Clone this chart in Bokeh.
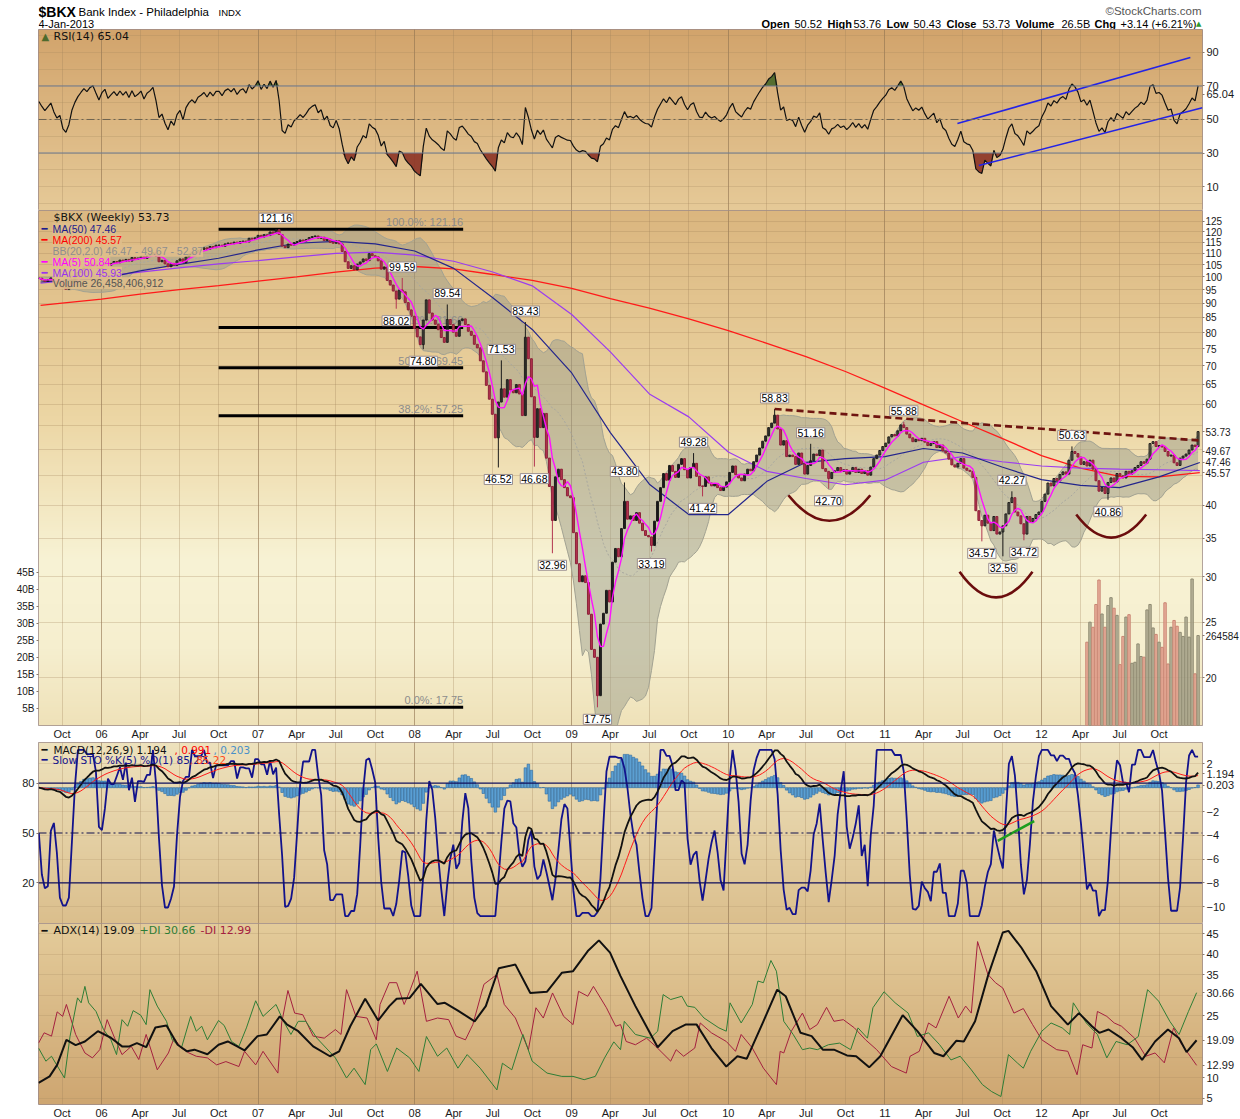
import numpy as np
import pandas as pd
from bokeh.plotting import figure
from bokeh.layouts import column
from bokeh.models import Range1d, LinearAxis, LinearScale, FixedTicker, Span, Grid, PrintfTickFormatter
from bokeh.core.properties import value
from bokeh.embed import file_html
from bokeh.resources import INLINE

# ---------------- weekly closes (Fridays) ----------------
close_2005 = [99.5, 98.8, 98.2,
              98.9, 99.6, 98.4, 97.5, 97.9,
              95.8, 95.1, 96.2, 98.7,
              100.4, 101.8, 102.9, 104.0,
              103.6, 104.7, 105.2, 104.3, 103.4]
close_2006 = [105.1, 106.0, 104.8, 105.6,
              106.4, 105.9, 107.0, 106.5,
              107.3, 106.6, 108.1, 107.4, 107.9,
              108.6, 107.7, 108.9, 109.4,
              110.2, 108.7, 106.3, 106.9,
              105.4, 104.2, 105.6, 104.8, 106.7,
              107.5, 105.9, 108.4, 109.6,
              110.3, 109.8, 111.2, 111.7,
              112.4, 111.8, 113.0, 112.5, 113.6,
              113.6, 113.1, 114.2, 114.6,
              114.3, 115.0, 114.4, 115.2,
              115.5, 115.1, 116.8, 116.4, 117.0]
close_2007 = [118.2, 117.4, 118.5, 118.1,
              119.8, 119.2, 120.9, 118.6,
              113.2, 112.5, 114.1, 113.6, 114.8,
              115.3, 116.0, 115.5, 116.2,
              117.1, 117.6, 117.9, 116.8,
              117.3, 115.8, 116.4, 114.9, 114.5,
              115.6, 114.2, 110.8, 106.3,
              103.5, 104.6, 102.9, 105.3, 106.2,
              107.5, 106.8, 109.8, 108.9,
              108.4, 106.7, 103.2, 104.1,
              98.6, 96.8, 94.5, 91.5, 94.9,
              94.2, 90.2, 87.6, 85.4]
close_2008 = [81.3, 78.6, 76.2, 84.1,
              91.2, 86.5, 84.1, 82.7, 80.9,
              78.4, 76.9, 84.3, 82.6,
              80.1, 78.8, 83.9, 84.5,
              82.6, 80.4, 79.1, 76.3, 75.2,
              71.4, 68.3, 64.7, 61.2,
              57.6, 52.4, 60.5, 63.8,
              61.7, 66.2, 63.5, 62.8, 64.9,
              62.5, 57.3, 78.5, 72.0,
              61.8, 52.5, 58.9, 54.6, 57.8,
              48.3, 43.1, 37.6, 44.8,
              46.2, 44.3, 42.9, 41.5]
close_2009 = [41.2, 35.8, 31.6, 29.4, 30.1,
              29.3, 25.8, 22.4, 21.7,
              18.6, 24.8, 25.9, 28.4,
              27.1, 31.8, 33.6, 32.5,
              36.4, 40.6, 37.8, 38.3, 37.6,
              38.8, 37.2, 36.1, 35.4,
              35.2, 34.0, 37.5, 40.6, 42.9,
              45.4, 44.2, 46.9, 45.8,
              44.7, 47.1, 48.2, 46.1,
              44.6, 46.5, 47.3, 44.9, 43.2,
              43.1, 44.8, 43.7, 43.2,
              43.6, 42.9, 42.4, 43.0]
close_2010 = [43.9, 45.6, 46.8, 45.2, 44.6,
              44.1, 45.3, 46.2, 45.9,
              47.6, 48.9, 50.3, 51.7,
              52.8, 54.6, 55.6, 57.4, 54.3,
              50.9, 51.8, 48.6, 48.9,
              48.6, 47.1, 49.3, 47.2,
              45.3, 46.9, 47.8, 49.1, 48.8,
              49.9, 46.3, 45.8, 44.5,
              45.6, 45.9, 46.5, 45.8,
              46.1, 45.3, 45.8, 46.5, 45.6,
              46.2, 45.4, 45.9, 45.1,
              46.6, 48.2, 48.9, 49.8, 50.6]
close_2011 = [51.3, 52.6, 53.1, 52.8,
              53.9, 55.2, 54.6, 53.2,
              52.4, 51.6, 52.1, 51.8,
              52.3, 51.5, 50.8, 51.2, 51.6,
              50.4, 50.9, 49.7, 49.3,
              48.1, 47.0, 46.6, 47.3,
              48.2, 46.4, 46.0, 45.8, 44.7,
              39.1, 37.6, 36.8, 38.4,
              37.2, 36.1, 38.2, 35.6, 35.9,
              36.8, 38.6, 40.4, 41.2,
              38.9, 38.3, 37.1, 35.6,
              38.2, 37.4, 37.9, 38.5, 38.9]
close_2012 = [40.6, 41.8, 43.7, 43.2,
              44.5, 44.1, 45.2, 45.7,
              45.3, 47.9, 49.6, 49.2, 48.5,
              47.1, 47.6, 46.8, 47.9,
              46.2, 44.1, 42.3, 42.9,
              41.9, 43.8, 44.6, 43.9, 45.4,
              45.0, 44.6, 45.8, 45.3,
              45.9, 46.5, 46.9, 47.6, 47.3,
              48.1, 51.2, 51.6, 50.6,
              50.8, 50.5, 49.6, 48.7,
              48.9, 47.4, 46.9, 48.3, 48.7,
              49.1, 49.9, 50.9, 50.59]
close_2013 = [53.73]

# labelled weekly extremes
ext_dates = ["2007-02-16", "2007-11-23", "2007-12-07", "2008-01-25", "2008-03-21", "2008-07-18",
             "2008-07-25", "2008-09-19", "2008-10-10", "2008-11-21", "2009-03-06", "2009-05-08",
             "2009-07-10", "2009-10-16", "2009-11-06", "2010-04-23", "2010-07-16", "2010-08-27",
             "2011-02-18", "2011-08-19", "2011-10-07", "2011-10-28", "2011-11-25", "2012-03-16",
             "2012-06-08"]
ext_values = [121.16, 88.02, 99.59, 74.80, 89.54, 46.52, 71.53, 83.43, 46.68, 32.96, 17.75, 43.80,
              33.19, 49.28, 41.42, 58.83, 51.16, 42.70, 55.88, 34.57, 32.56, 42.27, 34.72, 50.63, 40.86]
ext_kind = ["H", "L", "H", "L", "H", "L", "H", "H", "L", "L", "L", "H",
            "L", "H", "L", "H", "H", "L", "H", "L", "L", "H", "L", "H", "L"]

# weekly volume (billions), last 38 weeks
volume_b = [24.5, 30.4, 28.9, 35.6, 42.8, 32.8, 28.9, 35.3, 37.6, 34.5, 32.4, 17.9, 26.2,
            31.9, 32.6, 18.3, 18.6, 24.0, 20.3, 20.1, 34.0, 35.6, 28.7, 26.8, 24.5, 23.0,
            36.1, 18.1, 28.9, 30.9, 29.2, 27.4, 26.2, 31.9, 26.0, 43.1, 15.2, 26.46]
volume_last_b = 26.46

# moving averages read at quarter marks
ma_dates = ["2005-08-12", "2005-10-01", "2006-01-01", "2006-04-01", "2006-07-01", "2006-10-01",
            "2007-01-01", "2007-04-01", "2007-07-01", "2007-10-01", "2008-01-01", "2008-04-01",
            "2008-07-01", "2008-10-01", "2009-01-01", "2009-04-01", "2009-07-01", "2009-10-01",
            "2010-01-01", "2010-04-01", "2010-07-01", "2010-10-01", "2011-01-01", "2011-04-01",
            "2011-07-01", "2011-10-01", "2012-01-01", "2012-04-01", "2012-07-01", "2012-10-01",
            "2013-01-04"]
ma50 = [98.0, 98.5, 99.2, 102.5, 105.2, 107.8, 111.5, 114.5, 115.4, 114.2, 111.0, 103.5, 92.0,
        81.0, 68.0, 53.5, 43.5, 38.5, 38.5, 44.0, 47.5, 48.2, 48.6, 50.2, 49.3, 46.6, 44.3, 43.3,
        42.9, 44.8, 47.46]
ma100 = [97.5, 98.4, 100.2, 102.0, 103.7, 105.4, 106.8, 108.4, 109.9, 110.5, 109.2, 106.5, 102.0,
         96.5, 86.0, 74.0, 62.5, 57.0, 49.5, 45.8, 44.5, 43.4, 44.2, 47.5, 48.6, 47.6, 46.8, 46.4,
         46.2, 46.1, 45.93]
ma200 = [89.2, 90.0, 91.5, 93.3, 95.0, 96.6, 98.3, 100.0, 102.0, 103.6, 104.3, 103.3, 101.0,
         98.6, 95.5, 91.7, 88.2, 84.5, 80.6, 76.6, 72.6, 68.4, 64.0, 59.8, 55.9, 52.3, 48.8, 46.4,
         44.9, 44.8, 45.57]

# ADX(14) panel (x in fractional years)
adx_yr = [2005.598, 2005.669, 2005.717, 2005.776, 2005.835, 2005.894, 2005.977, 2006.060, 2006.131,
          2006.178, 2006.226, 2006.285, 2006.344, 2006.415, 2006.486, 2006.546, 2006.593, 2006.676,
          2006.747, 2006.806, 2006.866, 2006.913, 2006.996, 2007.055, 2007.138, 2007.185, 2007.256,
          2007.351, 2007.458, 2007.517, 2007.588, 2007.683, 2007.766, 2007.837, 2007.884, 2007.967,
          2008.038, 2008.145, 2008.192, 2008.275, 2008.382, 2008.453, 2008.536, 2008.642, 2008.737,
          2008.844, 2008.938, 2009.010, 2009.104, 2009.175, 2009.246,
          2009.313, 2009.408, 2009.550, 2009.645, 2009.728, 2009.799, 2009.893, 2009.988, 2010.059,
          2010.119, 2010.225, 2010.313, 2010.367, 2010.462, 2010.533, 2010.604, 2010.675, 2010.758,
          2010.817, 2010.900, 2010.971, 2011.114, 2011.208, 2011.315, 2011.374, 2011.457, 2011.504,
          2011.576, 2011.658, 2011.753, 2011.789, 2011.872, 2011.966, 2012.061, 2012.168, 2012.239,
          2012.322, 2012.369, 2012.428, 2012.511, 2012.582, 2012.642, 2012.725, 2012.807, 2012.878,
          2012.926, 2012.990]
adx_val = [8.7, 10.3, 13.1, 19.2, 17.9, 18.8, 21.3, 19.7, 17.6, 17.6, 18.4, 17.4, 22.2, 22.7,
           18.0, 16.4, 16.8, 15.7, 18.0, 18.8, 17.6, 16.6, 20.1, 20.5, 24.9, 22.9, 21.3, 17.6,
           15.2, 16.4, 22.5, 29.2, 23.9, 27.4, 29.2, 29.4, 32.8, 27.9, 28.2, 26.3, 23.7, 27.4,
           36.6, 37.5, 30.6, 30.9, 35.5, 35.9, 40.8, 43.4, 40.4,
           34.7, 27.4, 17.4, 21.3, 22.9, 22.9, 17.2, 12.7, 15.2, 14.6, 23.7, 31.4, 29.8, 20.9,
           20.1, 16.8, 16.8, 15.4, 15.2, 12.5, 15.2, 25.2, 21.3, 16.0, 15.2, 19.0, 18.8, 23.7,
           34.7, 45.3, 45.7, 41.6, 35.9, 27.4, 22.9, 25.7, 22.5, 20.9, 21.7, 19.6, 17.4, 14.3,
           18.8, 21.7, 19.6, 16.2, 19.09]
pdi_yr = [2005.598, 2005.645, 2005.681, 2005.764, 2005.799, 2005.847, 2005.870, 2005.894, 2005.918,
          2005.965, 2006.013, 2006.060, 2006.096, 2006.131, 2006.167, 2006.202, 2006.250, 2006.285,
          2006.309, 2006.356, 2006.415, 2006.451, 2006.510, 2006.569, 2006.605, 2006.640, 2006.676,
          2006.747, 2006.783, 2006.830, 2006.877, 2006.925, 2006.984, 2007.031, 2007.114, 2007.162,
          2007.209, 2007.256, 2007.304, 2007.375, 2007.434, 2007.493, 2007.564, 2007.612, 2007.683,
          2007.718, 2007.754, 2007.825, 2007.884, 2007.967, 2008.026, 2008.074, 2008.145, 2008.204,
          2008.275, 2008.334, 2008.417, 2008.524, 2008.559, 2008.619, 2008.690, 2008.749, 2008.844,
          2008.938, 2009.010, 2009.081, 2009.152, 2009.211, 2009.270,
          2009.313, 2009.337, 2009.408, 2009.503, 2009.550, 2009.585, 2009.633, 2009.704, 2009.739,
          2009.787, 2009.846, 2009.941, 2009.988, 2010.012, 2010.083, 2010.154, 2010.190, 2010.225,
          2010.273, 2010.308, 2010.355, 2010.415, 2010.474, 2010.521, 2010.569, 2010.640, 2010.711,
          2010.782, 2010.829, 2010.889, 2010.924, 2010.995, 2011.066, 2011.149, 2011.208, 2011.279,
          2011.350, 2011.422, 2011.481, 2011.552, 2011.623, 2011.682, 2011.741, 2011.789, 2011.848,
          2011.884, 2011.931, 2012.002, 2012.061, 2012.132, 2012.180, 2012.203, 2012.286, 2012.357,
          2012.417, 2012.476, 2012.547, 2012.618, 2012.677, 2012.748, 2012.819, 2012.878, 2012.938,
          2012.990]
pdi_val = [17.2, 14.0, 15.2, 9.9, 20.0, 29.4, 28.2, 32.2, 28.2, 26.1, 21.7, 19.2, 15.6, 24.1,
           22.5, 26.3, 25.2, 22.9, 31.4, 27.4, 23.7, 19.2, 17.2, 24.9, 21.3, 22.5, 19.2, 23.9,
           22.7, 18.8, 17.6, 22.1, 28.7, 24.9, 27.8, 23.7, 20.5, 23.7, 23.7, 19.6, 17.2, 14.8,
           9.9, 12.3, 8.3, 16.8, 18.2, 11.5, 17.2, 14.8, 11.5, 20.0, 15.2, 17.2, 12.3, 15.6,
           12.3, 7.0, 13.5, 11.9, 20.5, 14.0, 11.1, 10.3, 10.3, 9.5, 10.3, 14.8, 18.7,
           16.8, 23.7, 20.5, 19.6, 21.3, 30.2, 29.0, 29.8, 27.4, 27.1, 24.5, 22.1, 21.3, 28.2,
           23.3, 27.8, 33.5, 33.1, 38.5, 35.9, 23.7, 20.5, 16.8, 17.2, 16.8, 18.0, 18.4, 16.8,
           22.1, 19.6, 27.0, 30.9, 28.2, 25.7, 20.0, 20.9, 18.0, 14.3, 15.2, 11.9, 8.3, 6.6,
           5.4, 15.6, 13.5, 12.3, 16.4, 21.3, 23.3, 22.1, 20.5, 28.2, 23.3, 20.5, 14.8, 18.8,
           18.0, 20.0, 31.4, 28.6, 23.7, 20.5, 26.1, 30.66]
mdi_yr = [2005.598, 2005.634, 2005.681, 2005.717, 2005.752, 2005.776, 2005.835, 2005.894, 2005.942,
          2005.989, 2006.036, 2006.084, 2006.131, 2006.190, 2006.238, 2006.285, 2006.356, 2006.427,
          2006.463, 2006.510, 2006.558, 2006.605, 2006.676, 2006.735, 2006.794, 2006.877, 2006.913,
          2006.984, 2007.031, 2007.126, 2007.150, 2007.190, 2007.233, 2007.285, 2007.351, 2007.422,
          2007.493, 2007.529, 2007.564, 2007.624, 2007.695, 2007.754, 2007.778, 2007.837, 2007.884,
          2007.932, 2007.967, 2008.015, 2008.074, 2008.145, 2008.216, 2008.263, 2008.323, 2008.370,
          2008.441, 2008.524, 2008.571, 2008.642, 2008.725, 2008.773, 2008.820, 2008.879, 2008.950,
          2009.010, 2009.045, 2009.104, 2009.140, 2009.223, 2009.282,
          2009.313, 2009.349, 2009.408, 2009.479, 2009.538, 2009.633, 2009.668, 2009.716, 2009.787,
          2009.822, 2009.893, 2009.988, 2010.047, 2010.083, 2010.154, 2010.225, 2010.308, 2010.332,
          2010.355, 2010.403, 2010.474, 2010.521, 2010.569, 2010.628, 2010.675, 2010.735, 2010.806,
          2010.877, 2010.948, 2011.042, 2011.137, 2011.161, 2011.220, 2011.279, 2011.327, 2011.410,
          2011.469, 2011.516, 2011.552, 2011.592, 2011.658, 2011.706, 2011.753, 2011.824, 2011.884,
          2011.943, 2012.002, 2012.097, 2012.168, 2012.227, 2012.263, 2012.322, 2012.357, 2012.417,
          2012.464, 2012.511, 2012.594, 2012.665, 2012.725, 2012.784, 2012.843, 2012.890, 2012.990]
mdi_val = [18.4, 20.9, 20.1, 26.0, 24.9, 27.8, 20.5, 16.0, 14.8, 16.8, 24.1, 19.6, 15.6, 17.6,
           14.4, 20.5, 11.9, 16.0, 19.6, 17.2, 16.0, 15.2, 14.8, 13.1, 13.9, 12.7, 16.4, 13.1,
           16.4, 11.1, 23.3, 31.2, 25.7, 25.3, 20.1, 19.6, 21.7, 20.5, 31.4, 24.9, 24.5, 19.2,
           27.8, 33.1, 33.1, 27.8, 31.0, 35.9, 23.7, 24.5, 24.1, 20.1, 19.2, 22.9, 32.7, 35.1,
           27.8, 24.5, 16.8, 27.0, 24.5, 30.6, 24.9, 22.9, 31.0, 29.8, 32.2, 27.0, 22.5,
           22.9, 18.8, 18.0, 19.6, 17.6, 14.0, 16.8, 15.2, 17.2, 23.3, 20.9, 18.8, 16.4, 20.5,
           17.2, 12.3, 8.3, 16.4, 16.0, 21.3, 25.7, 21.7, 22.9, 27.1, 23.7, 24.1, 22.1, 19.2,
           16.8, 12.7, 11.1, 15.2, 16.4, 23.3, 22.1, 29.8, 24.5, 27.4, 25.7, 43.1, 35.1, 33.1,
           31.8, 25.7, 26.8, 22.9, 19.2, 16.8, 16.4, 10.7, 18.0, 17.2, 26.1, 24.9, 23.3, 22.5,
           19.6, 15.2, 16.0, 13.6, 22.1, 18.4, 12.99]

# drawn annotations
fib_low, fib_high = 17.75, 121.16
fib_ratios = [1.0, 0.618, 0.5, 0.382, 0.0]
fib_span = ["2006-10-01", "2008-04-23"]
neck_dates = ["2010-04-19", "2013-01-10"]
neck_values = [58.83, 51.8]
arc_start = ["2010-05-21", "2011-06-24", "2012-03-22"]
arc_end = ["2010-11-28", "2011-12-11", "2012-09-01"]
arc_level = [41.6, 30.6, 38.5]
arc_ctrl = [33.9, 24.9, 32.0]
rsi_chan_dates = [["2011-06-19", "2012-12-13"], ["2011-08-08", "2013-01-10"]]
rsi_chan_vals = [[47.6, 87.0], [22.5, 57.0]]
macd_line_dates = ["2011-09-21", "2011-12-15"]
macd_line_vals = [-4.47, -2.81]

# last values shown on the right-hand scales
rsi_last = 65.04
price_tags = [53.73, 49.67, 47.46, 45.57]
macd_tags = [1.194, 0.203]
adx_tags = [30.66, 19.09, 12.99]

price_ticks = [20, 25, 30, 35, 40, 60, 65, 70, 75, 80, 85, 90, 95, 100, 105, 110, 115, 120, 125]
price_grid = [20, 25, 30, 35, 40, 45, 50, 55, 60, 65, 70, 75, 80, 85, 90, 95, 100, 105, 110, 115, 120, 125]
vol_ticks = [5, 10, 15, 20, 25, 30, 35, 40, 45]

# ---------------- derived series ----------------
BASE = pd.Timestamp("2005-01-01")


def dnum(d):
    return np.asarray((pd.to_datetime(d) - BASE).days, dtype=float)


def ynum(yrs):
    return 365.0 + (np.asarray(yrs, dtype=float) - 2006.0) * 365.17


closes = np.array(close_2005 + close_2006 + close_2007 + close_2008 + close_2009 + close_2010 +
                  close_2011 + close_2012 + close_2013, dtype=float)
dates = pd.date_range("2005-08-12", periods=len(closes), freq="7D")
x = dnum(dates) - 4.0
C = closes
O = np.r_[C[0], C[:-1]]
H = np.maximum(O, C)
L = np.minimum(O, C)
ext_idx = dates.get_indexer(pd.to_datetime(ext_dates), method="nearest")
for i, v, k in zip(ext_idx, ext_values, ext_kind):
    if k == "H":
        H[i] = max(H[i], v)
    else:
        L[i] = min(L[i], v)

s = pd.Series(C)
ma5 = s.rolling(5, min_periods=1).mean().values
bb_mid = s.rolling(20, min_periods=1).mean()
bb_sd = s.rolling(20, min_periods=1).std(ddof=0).fillna(0)
bb_up = (bb_mid + 2 * bb_sd).values
bb_lo = (bb_mid - 2 * bb_sd).values

# RSI(14), Wilder smoothing seeded with the first 14-week averages
delta = s.diff().fillna(0).values
gains = np.clip(delta, 0, None)
losses = np.clip(-delta, 0, None)
ag, al = gains[1:15].mean(), losses[1:15].mean()
rsi = np.empty(len(C))
for i in range(len(C)):
    ag = (ag * 13 + gains[i]) / 14
    al = (al * 13 + losses[i]) / 14
    rsi[i] = 100 - 100 / (1 + ag / al) if al > 0 else 100

ema12 = s.ewm(span=12, adjust=False).mean()
ema26 = s.ewm(span=26, adjust=False).mean()
macd = ema12 - ema26
sig = macd.ewm(span=9, adjust=False).mean()
hist = (macd - sig).values

Hs, Ls = pd.Series(H), pd.Series(L)
ll = Ls.rolling(5, min_periods=1).min()
hh = Hs.rolling(5, min_periods=1).max()
fastk = (100 * (s - ll) / (hh - ll).replace(0, np.nan)).fillna(50)
slowk = fastk.rolling(3, min_periods=1).mean().values

# ---------------- layout constants ----------------
X_START, X_END = 218.16, 2931.3
FW = 1164
BL, BR = 38, 38
FV = "DejaVu Sans"
FA = "Liberation Sans"

q_dates = pd.date_range("2005-10-01", "2012-10-01", freq="QS")
q_ticks = [int(v) for v in dnum(q_dates)]
q_labels = {}
for t, d in zip(q_ticks, q_dates):
    q_labels[t] = ("%02d" % (d.year % 100)) if d.month == 1 else d.strftime("%b")
y_ticks = [t for t, d in zip(q_ticks, q_dates) if d.month == 1]

xr = Range1d(X_START, X_END)


def hex2rgb(h):
    return [int(h[i:i + 2], 16) for i in (1, 3, 5)]


def add_bg(p, ylo, yhi, stops, n=256):
    fr = np.array([a for a, _ in stops])
    cols = np.array([hex2rgb(c) for _, c in stops], dtype=float)
    t = (np.arange(n) + 0.5) / n
    img = np.empty((n, 1), dtype=np.uint32)
    view = img.view(dtype=np.uint8).reshape((n, 1, 4))
    for k in range(3):
        view[:, 0, k] = np.interp(t, fr, cols[:, k])[::-1].astype(np.uint8)
    view[:, 0, 3] = 255
    p.image_rgba(image=[img], x=X_START, y=ylo, dw=X_END - X_START, dh=yhi - ylo, level="image")


def add_xgrid(p):
    p.add_layout(Grid(dimension=0, ticker=FixedTicker(ticks=q_ticks),
                      grid_line_color="#a0825a", grid_line_alpha=0.3))
    p.add_layout(Grid(dimension=0, ticker=FixedTicker(ticks=y_ticks),
                      grid_line_color="#8c6e4e", grid_line_alpha=0.45))


def add_ygrid(p, ticks, y_range_name="default", alpha=0.25):
    p.add_layout(Grid(dimension=1, ticker=FixedTicker(ticks=ticks), y_range_name=y_range_name,
                      grid_line_color="#a0825a", grid_line_alpha=alpha))


def style_axis(ax, size="11px"):
    ax.axis_line_color = None
    ax.major_tick_line_color = "#8a7a6a"
    ax.major_tick_out = 2
    ax.major_tick_in = 0
    ax.minor_tick_line_color = None
    ax.major_label_text_font = FA
    ax.major_label_text_font_size = size
    ax.major_label_text_color = "#1a1a1a"
    ax.major_label_standoff = 2


def panel(fh, y_range, y_type="linear", y_loc="right", bottom=0, with_x=False):
    p = figure(frame_width=FW, frame_height=fh, x_range=xr, y_range=y_range, y_axis_type=y_type,
               y_axis_location=y_loc, x_axis_location="below" if with_x else None,
               toolbar_location=None, output_backend="svg",
               min_border_left=BL, min_border_right=BR, min_border_top=0, min_border_bottom=bottom)
    p.xgrid.visible = False
    p.ygrid.visible = False
    p.outline_line_color = "#9c8a8a"
    p.border_fill_color = "white"
    for ax in p.yaxis:
        style_axis(ax)
    if with_x:
        ax = p.xaxis[0]
        style_axis(ax)
        ax.major_tick_out = 0
        ax.ticker = FixedTicker(ticks=q_ticks)
        ax.major_label_overrides = q_labels
    return p


def legend_text(p, ytop, items, frame_top, bg=None):
    # items: (page_x, page_y, text, color, font, size)
    for (px, py, txt, col, font, size) in items:
        kw = {}
        if bg is not None:
            kw = dict(background_fill_color=bg, background_fill_alpha=0.9)
        p.text(x=[X_START], y=[ytop], text=[txt], x_offset=px - 38, y_offset=py - frame_top,
               text_font=value(font), text_font_size=size, text_color=col,
               text_align="left", text_baseline="middle", **kw)


def tag_overrides(vals, fmt="%.2f"):
    return {v: fmt % v for v in vals}


# ---------------- header (frame aligned with the panels, x in page pixels) ----------------
hdr = figure(frame_width=FW, frame_height=29, x_range=Range1d(38, 1202), y_range=Range1d(29, 0),
             x_axis_location=None, y_axis_location=None, toolbar_location=None, output_backend="svg",
             min_border_left=BL, min_border_right=BR, min_border_top=0, min_border_bottom=0)
hdr.xgrid.visible = False
hdr.ygrid.visible = False
hdr.outline_line_color = None


def htext(xp, yp, txt, size, style="normal", color="#000000", align="left", font=FA):
    hdr.text(x=[xp], y=[yp], text=[txt], text_font=value(font), text_font_size=size,
             text_font_style=style, text_color=color, text_align=align, text_baseline="middle")


htext(38, 11, "$BKX", "14px", "bold")
htext(78, 11, "Bank Index - Philadelphia", "11.5px")
htext(218, 12, "INDX", "9.5px")
htext(38, 23, "4-Jan-2013", "11px")
htext(1201, 10, "\u00a9StockCharts.com", "11.5px", color="#555555", align="right")
ohlc = [(761, "Open", "bold"), (794, "50.52", "normal"), (827, "High", "bold"), (853, "53.76", "normal"),
        (886, "Low", "bold"), (913, "50.43", "normal"), (946, "Close", "bold"), (982, "53.73", "normal"),
        (1015, "Volume", "bold"), (1061, "26.5B", "normal"), (1094, "Chg", "bold"),
        (1120, "+3.14 (+6.21%)", "normal")]
for xp, txt, st in ohlc:
    htext(xp, 23, txt, "11px", st)
htext(1201, 23, "\u25b2", "7px", color="#2e9a2e", align="right", font=FV)

# ---------------- RSI panel ----------------
RLO, RHI = -4.3, 103.7
rp = panel(181, Range1d(RLO, RHI))
add_bg(rp, RLO, RHI, [(0, "#d2a46c"), (1, "#e6ca98")])
add_xgrid(rp)
add_ygrid(rp, list(range(0, 101, 10)))
rp.yaxis[0].ticker = FixedTicker(ticks=[10, 30, 50, rsi_last, 70, 90])
rp.yaxis[0].major_label_overrides = tag_overrides([rsi_last])
rp.varea(x=x, y1=70, y2=np.maximum(rsi, 70), fill_color="#4e6a2c", fill_alpha=0.95)
rp.varea(x=x, y1=np.minimum(rsi, 30), y2=30, fill_color="#8f3a2a", fill_alpha=0.95)
for lv in (30, 70):
    rp.add_layout(Span(location=lv, dimension="width", line_color="#6c7a92", line_width=1.2))
rp.add_layout(Span(location=50, dimension="width", line_color="#6e6450", line_width=1,
                   line_dash="8 3 2 3"))
rp.line(x, rsi, line_color="#111111", line_width=1.2)
for dd, vv in zip(rsi_chan_dates, rsi_chan_vals):
    xx = dnum(dd)
    rp.segment(x0=[xx[0]], y0=[vv[0]], x1=[xx[1]], y1=[vv[1]], line_color="#2323e6", line_width=1.6)
legend_text(rp, RHI, [(41, 36, "\u25b2", "#4e6a2c", FV, "10px"),
                      (53, 36, "RSI(14) 65.04", "#111111", FV, "11px")], 29)

# ---------------- main price panel ----------------
PLO, PHI = 16.5, 130.6
VHI = 151.5
mp = panel(515, Range1d(PLO, PHI), y_type="log", bottom=16, with_x=True)
mp.extra_y_ranges = {"vol": Range1d(0, VHI)}
mp.extra_y_scales = {"vol": LinearScale()}
add_bg(mp, PLO, PHI, [(0, "#dbb67f"), (0.4, "#ecd6a4"), (0.68, "#f8f3d5"), (0.85, "#f6efcf"),
                      (1, "#efe2b9")])
add_xgrid(mp)
add_ygrid(mp, price_grid, alpha=0.28)
# the volume tag sits on the price scale at the height of the last volume bar
vol_tag = float(np.exp(np.log(PLO) + volume_last_b / VHI * (np.log(PHI) - np.log(PLO))))
mp.yaxis[0].ticker = FixedTicker(ticks=price_ticks + price_tags + [vol_tag])
mp.yaxis[0].formatter = PrintfTickFormatter(format="%d")
ov = tag_overrides(price_tags)
ov[vol_tag] = "264584"
mp.yaxis[0].major_label_overrides = ov
mp.yaxis[0].major_label_text_font_size = "10px"
mp.yaxis[0].major_label_standoff = 1
vax = LinearAxis(y_range_name="vol", ticker=FixedTicker(ticks=vol_ticks),
                 major_label_overrides={t: "%dB" % t for t in vol_ticks})
style_axis(vax, "10px")
mp.add_layout(vax, "left")

# Bollinger band
mp.varea(x=x, y1=bb_lo, y2=bb_up, fill_color="#9c9e8c", fill_alpha=0.5)
mp.line(x, bb_up, line_color="#a2a292", line_width=1)
mp.line(x, bb_lo, line_color="#a2a292", line_width=1)
mp.line(x, bb_mid.values, line_color="#a8a8a0", line_width=1, line_dash="2 2")

# Fibonacci lines
fx = dnum(fib_span)
fib_vals = [fib_low + r * (fib_high - fib_low) for r in fib_ratios]
mp.segment(x0=[fx[0]] * 5, y0=fib_vals, x1=[fx[1]] * 5, y1=fib_vals, line_color="#000000",
           line_width=3)
mp.text(x=[fx[1]] * 5, y=fib_vals,
        text=["%.1f%%: %.2f" % (r * 100, v) for r, v in zip(fib_ratios, fib_vals)],
        y_offset=-7, text_align="right", text_baseline="middle", text_font=value(FA),
        text_font_size="11px", text_color="#8c8c8c")

# volume
nv = len(volume_b)
vx = x[-nv:]
vup = C[-nv:] >= O[-nv:]
vcol = ["#aba78f" if u else "#e6a190" for u in vup]
vline = ["#8e8a72" if u else "#c98472" for u in vup]
mp.vbar(x=vx, top=volume_b, bottom=0, width=5.5, fill_color=vcol, line_color=vline,
        fill_alpha=0.8, y_range_name="vol")

# moving averages
mx = dnum(ma_dates)
mp.line(mx, ma200, line_color="#ff1a1a", line_width=1.3)
mp.line(mx, ma100, line_color="#9b3cf0", line_width=1.2)
mp.line(mx, ma50, line_color="#23258c", line_width=1.2)

# candles
inc = C >= O
wcol = np.where(inc, "#1a1a1a", "#b23550")
mp.segment(x0=x, y0=L, x1=x, y1=H, line_color=list(wcol), line_width=1)
mp.vbar(x=x[inc], top=C[inc], bottom=O[inc], width=4.5, fill_color=None, line_color="#1a1a1a",
        line_width=1)
mp.vbar(x=x[~inc], top=O[~inc], bottom=C[~inc], width=4.5, fill_color="#b4334f",
        line_color="#8c2239", line_width=1)
mp.line(x, ma5, line_color="#ff10ff", line_width=1.4)

# neckline and arcs
nx = dnum(neck_dates)
mp.line(nx, neck_values, line_color="#6e1410", line_width=2.6, line_dash="7 4")
mp.quadratic(x0=dnum(arc_start), y0=arc_level, x1=dnum(arc_end), y1=arc_level,
             cx=(dnum(arc_start) + dnum(arc_end)) / 2, cy=arc_ctrl, line_color="#6b0d0d",
             line_width=2.6)

# extreme labels
ex_x = x[ext_idx]
ex_off = [-11 if k == "H" else 12 for k in ext_kind]
mp.text(x=ex_x, y=ext_values, text=["%.2f" % v for v in ext_values], y_offset=ex_off,
        text_align="center", text_baseline="middle", text_font=value(FA), text_font_size="10.5px",
        text_color="#000000", background_fill_color="white", border_line_color="#9a8e8e",
        padding=1)

# legend
MT = 210
legend_text(mp, PHI, [(53, 217.3, "$BKX (Weekly) 53.73", "#111111", FV, "11px")], MT, bg="#dcb984")
legend_text(mp, PHI, [(52, 228.3, "MA(50) 47.46", "#1c1c8c", FA, "10.5px"),
                      (52, 239.3, "MA(200) 45.57", "#ff0000", FA, "10.5px"),
                      (52, 250.3, "BB(20,2.0) 46.47 - 49.67 - 52.87", "#8e8e8e", FA, "10.5px"),
                      (52, 261.3, "MA(5) 50.84", "#ff00ff", FA, "10.5px"),
                      (52, 272.3, "MA(100) 45.93", "#9933ee", FA, "10.5px"),
                      (52, 282.7, "Volume 26,458,406,912", "#555555", FA, "10.5px")], MT,
            bg="#dfbe8b")
legend_text(mp, PHI, [(41, 228.3, "\u2501", "#1c1c8c", FV, "10px"),
                      (41, 239.3, "\u2501", "#ff0000", FV, "10px"),
                      (41, 261.3, "\u2501", "#ff00ff", FV, "10px"),
                      (41, 272.3, "\u2501", "#9933ee", FV, "10px")], MT)

# ---------------- MACD / STO panel ----------------
SLO, SHI = -4.5, 104.5
MLO, MHI = -11.41, 3.8
cp = panel(181, Range1d(SLO, SHI), y_loc="left")
cp.extra_y_ranges = {"macd": Range1d(MLO, MHI)}
cp.extra_y_scales = {"macd": LinearScale()}
add_bg(cp, SLO, SHI, [(0, "#eee2bd"), (1, "#dbbf8d")])
add_xgrid(cp)
add_ygrid(cp, [2, 0, -2, -4, -6, -8, -10], y_range_name="macd", alpha=0.2)
cp.yaxis[0].ticker = FixedTicker(ticks=[20, 50, 80])
max_ax = LinearAxis(y_range_name="macd", ticker=FixedTicker(ticks=[2] + macd_tags + [-2, -4, -6, -8, -10]),
                    major_label_overrides=tag_overrides(macd_tags, "%.3f"))
style_axis(max_ax)
cp.add_layout(max_ax, "right")
cp.vbar(x=x, top=hist, bottom=0, width=6, fill_color="#5b9fd2", line_color="#2a6aa2",
        line_width=0.6, y_range_name="macd")
for lv in (20, 80):
    cp.add_layout(Span(location=lv, dimension="width", line_color="#10105e", line_width=1.2))
cp.add_layout(Span(location=50, dimension="width", line_color="#10104e", line_width=1,
                   line_dash="8 3 2 3"))
cp.line(x, slowk, line_color="#12128c", line_width=1.8)
cp.line(x, sig.values, line_color="#ff1a1a", line_width=1, y_range_name="macd")
cp.line(x, macd.values, line_color="#111111", line_width=1.8, y_range_name="macd")
gx = dnum(macd_line_dates)
cp.segment(x0=[gx[0]], y0=[macd_line_vals[0]], x1=[gx[1]], y1=[macd_line_vals[1]],
           line_color="#1e9e1e", line_width=2.5, y_range_name="macd")
CT = 741
legend_text(cp, SHI, [(41, 748, "\u2501", "#111111", FV, "10px"),
                      (53, 748, "MACD(12,26,9) 1.194", "#111111", FV, "10.5px"),
                      (174, 748, ", 0.991", "#ff0000", FV, "10.5px"),
                      (213, 748, ", 0.203", "#4a90c8", FV, "10.5px"),
                      (41, 758, "\u2501", "#12128c", FV, "10px"),
                      (52, 758, "Slow STO %K(5) %D(1) 85.22", "#12128c", FV, "10.5px"),
                      (189, 758, ", 85.22", "#ff4a1a", FV, "10.5px")], CT)

# ---------------- ADX panel ----------------
ALO, AHI = 3.46, 47.5
ap = panel(181, Range1d(ALO, AHI), bottom=16, with_x=True)
add_bg(ap, ALO, AHI, [(0, "#e4cc9b"), (1, "#cea671")])
add_xgrid(ap)
add_ygrid(ap, [5, 10, 15, 20, 25, 30, 35, 40, 45], alpha=0.22)
ap.yaxis[0].ticker = FixedTicker(ticks=[5, 10, 25, 35, 40, 45] + adx_tags)
ap.yaxis[0].major_label_overrides = tag_overrides(adx_tags)
ap.line(ynum(mdi_yr), mdi_val, line_color="#a3203f", line_width=1)
ap.line(ynum(pdi_yr), pdi_val, line_color="#2e7d36", line_width=1)
ap.line(ynum(adx_yr), adx_val, line_color="#111111", line_width=2)
AT = 922
legend_text(ap, AHI, [(41, 929, "\u2501", "#111111", FV, "10px"),
                      (53, 929, "ADX(14) 19.09", "#111111", FV, "11px"),
                      (139, 929, "+DI 30.66", "#2e7d36", FV, "11px"),
                      (200, 929, "-DI 12.99", "#a3203f", FV, "11px")], AT)

layout = column(hdr, rp, mp, cp, ap, spacing=0)
open("out.html", "w").write(file_html(layout, INLINE))
